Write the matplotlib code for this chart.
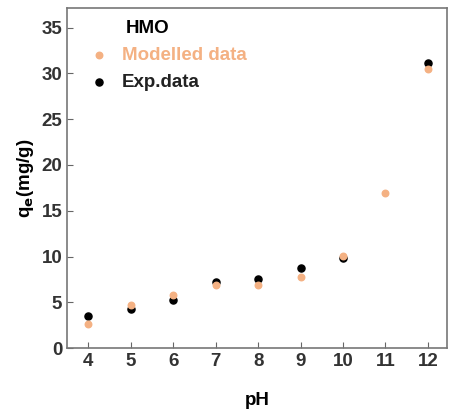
import matplotlib.pyplot as plt

plt.rcParams['font.family'] = ['Liberation Sans', 'DejaVu Sans']
plt.rcParams['font.weight'] = 'bold'

ph = [4, 5, 6, 7, 8, 9, 10, 11, 12]
modelled = [2.6, 4.7, 5.8, 6.9, 6.9, 7.8, 10.1, 16.9, 30.5]
ph_exp = [4, 5, 6, 7, 8, 9, 10, 12]
exp_data = [3.5, 4.3, 5.3, 7.2, 7.6, 8.7, 9.8, 31.1]

orange = '#f4b183'

fig = plt.figure(figsize=(4.51, 4.15), dpi=100)
ax = fig.add_axes([0.149, 0.161, 0.842, 0.819])

ax.scatter(ph, modelled, s=22, color=orange, label='Modelled data', zorder=3)
ax.scatter(ph_exp, exp_data, s=26, color='black', label='Exp.data', zorder=2)

ax.set_xlim(3.5, 12.45)
ax.set_ylim(0, 37.1)
ax.set_xticks(ph)
ax.set_yticks([0, 5, 10, 15, 20, 25, 30, 35])
ax.tick_params(direction='in', labelsize=13.5, length=4, color='#666666')
for lab in ax.get_xticklabels() + ax.get_yticklabels():
    lab.set_color('#333333')
for sp in ax.spines.values():
    sp.set_color('#777777')
    sp.set_linewidth(1.2)

ax.set_xlabel('pH', fontsize=13.5, fontweight='bold', labelpad=16)
ax.set_ylabel(r'q$_\mathbf{e}$(mg/g)', fontsize=13.5, fontweight='bold', labelpad=4)

ax.text(0.155, 0.94, 'HMO', transform=ax.transAxes, fontsize=13.5, fontweight='bold', va='center')
leg = ax.legend(loc='upper left', bbox_to_anchor=(0.015, 0.91), frameon=False,
                fontsize=13.5, handletextpad=0.2, labelspacing=0.55, borderaxespad=0)
leg.get_texts()[0].set_color(orange)
leg.get_texts()[1].set_color('#222222')

fig.savefig('out.png', dpi=100)
